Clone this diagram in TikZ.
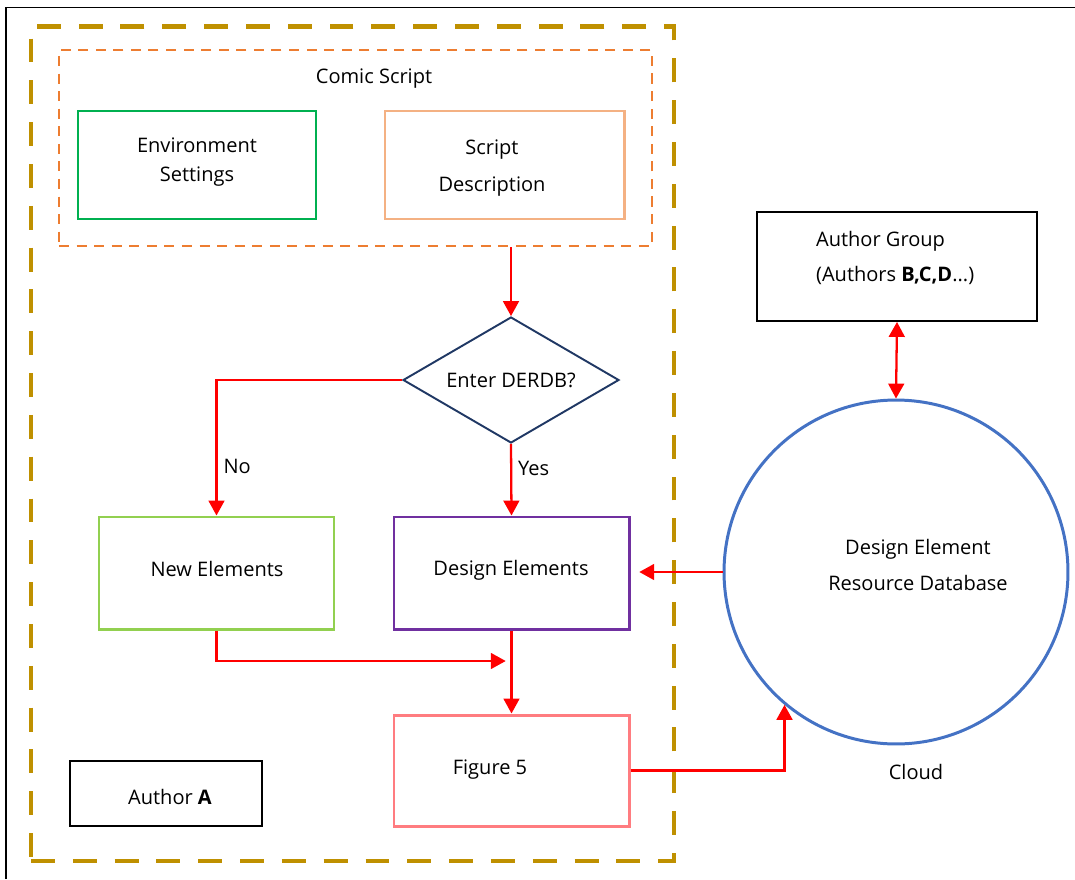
\documentclass[tikz,border=0pt]{standalone}
\usepackage{fontspec}
\setmainfont{Open Sans}
\usetikzlibrary{shapes.geometric, arrows.meta, fit, calc}

\definecolor{gold}{RGB}{191,144,0}
\definecolor{scriptorange}{RGB}{237,125,49}
\definecolor{envgreen}{RGB}{0,176,80}
\definecolor{peach}{RGB}{244,177,131}
\definecolor{navy}{RGB}{32,56,100}
\definecolor{lightgreen}{RGB}{146,208,80}
\definecolor{elpurple}{RGB}{112,48,160}
\definecolor{salmon}{RGB}{255,124,128}
\definecolor{dbblue}{RGB}{68,114,196}
\definecolor{arrowred}{RGB}{255,0,0}

\tikzset{
	box/.style={draw, line width=1.7pt, inner sep=0pt},
	thinbox/.style={draw=black, line width=1.1pt, inner sep=0pt},
	boxtext/.style={align=center, inner sep=1pt},
	redline/.style={draw=arrowred, line width=1.3pt},
	redarrow/.style={redline, -{Triangle[width=9pt,length=8.5pt]}},
}

\begin{document}
\begin{tikzpicture}[x=0.02cm, y=-0.02cm, font=\fontsize{11.4}{16.4}\selectfont]
	\useasboundingbox (0,0) rectangle (1075,879);
	\draw[line width=1.1pt] (6,879) -- (6,7.5) -- (1075,7.5);
	
	% author A area
	\node[fit={(31,26.5) (674,861)}, draw=gold, line width=2.8pt, dash pattern=on 13.6pt off 10.2pt, inner sep=0pt] (areaA) {};
	\node[thinbox, fit={(70,761) (262,826)}] (authorA) {};
	\node[boxtext] (authorAtext) at (170,797) {Author \textbf{A}};
	
	% comic script
	\node[fit={(59,50) (652,246)}, draw=scriptorange, line width=1.2pt, dash pattern=on 5.7pt off 4.3pt, inner sep=0pt] (comic) {};
	\node[boxtext] (comictitle) at (374,79) {Comic Script};
	\node[box, draw=envgreen, fit={(78,111) (316,219)}] (env) {};
	\node[boxtext] (envtext) at (197,162) {Environment\\Settings};
	\node[box, draw=peach, fit={(385,111) (624,219)}] (scriptdesc) {};
	\node[boxtext] (scripttext) at (492,168) {Script\\[4.5pt]Description};
	
	\node[diamond, draw=navy, line width=1.1pt, aspect=1.714, minimum width=4.32cm, minimum height=2.52cm, inner sep=0pt] (derdb) at (511,380) {Enter DERDB?};
	
	\node[box, draw=lightgreen, fit={(99,517) (334,629)}] (newel) {};
	\node[boxtext] (neweltext) at (217,569) {New Elements};
	\node[box, draw=elpurple, fit={(394,517) (629,629)}] (desel) {};
	\node[boxtext] (deseltext) at (511,570) {Design Elements};
	\node[box, draw=salmon, fit={(394,715) (629,826)}] (fig) {};
	\node[boxtext] (figtext) at (490,770) {Figure 5};
	\coordinate (join) at (511,661);
	
	% cloud side
	\node[thinbox, fit={(757,212) (1037,321)}] (group) {};
	\node[boxtext, align=left, anchor=west] (grouptext) at (814,258) {Author Group\\[4pt](Authors \textbf{B,C,D}...)};
	\node[circle, draw=dbblue, line width=1.7pt, minimum size=6.88cm, inner sep=0pt] (db) at (896,572) {};
	\node[boxtext] (dbtext) at (918,565) {Design Element\\[4pt]Resource Database};
	\node (cloud) at (916,772) {Cloud};
	
	\draw[redarrow] (comic.south -| derdb.north) -- (derdb.north);
	\draw[redarrow] (derdb.west) -| node[pos=0.82, right] {No} (newel.north);
	\draw[redarrow] (derdb.south) -- node[pos=0.34, right] {Yes} (desel.north);
	\draw[redarrow] (newel.south) |- ([xshift=-3pt]join);
	\draw[redarrow] (desel.south) -- (fig.north);
	\draw[redarrow] (fig.east) -| (db.230);
	\draw[redarrow, shorten >=5pt] (db.west) -- (db.west -| desel.east);
	\draw[redline, {Triangle[width=9pt,length=8.5pt]}-{Triangle[width=9pt,length=8.5pt]}] (group.south) -- (db.north);
\end{tikzpicture}
\end{document}
